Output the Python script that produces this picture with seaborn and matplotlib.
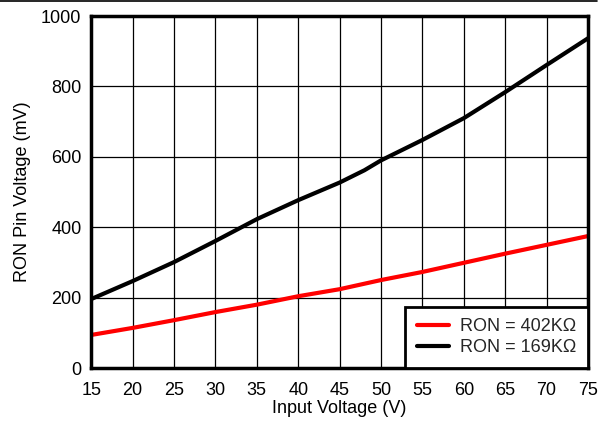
import matplotlib
matplotlib.use("Agg")
import matplotlib.pyplot as plt
import seaborn as sns
import pandas as pd
from matplotlib.lines import Line2D

vin_169 = [15, 20, 25, 30, 35, 40, 45, 48, 50, 55, 60, 65, 70, 75]
ron_169 = [196, 247, 301, 361, 423, 477, 527, 562, 590, 648, 710, 784, 861, 937]
vin_402 = [15, 20, 25, 30, 35, 40, 45, 50, 55, 60, 65, 70, 75]
ron_402 = [94, 114, 136, 159, 180, 204, 224, 250, 273, 299, 325, 350, 375]
labels = ["RON = 402K\u03a9", "RON = 169K\u03a9"]
colors = ["#ff0000", "#000000"]
xticks = list(range(15, 80, 5))
yticks = list(range(0, 1001, 200))

df = pd.concat([
    pd.DataFrame({"Vin": vin_402, "V": ron_402, "series": labels[0]}),
    pd.DataFrame({"Vin": vin_169, "V": ron_169, "series": labels[1]}),
])

sns.set_theme(style="white")
plt.rcParams["font.family"] = ["Liberation Sans", "DejaVu Sans"]

fs = 13
fig = plt.figure(figsize=(6, 4.24), dpi=100)
ax = fig.add_axes([0.152, 0.132, 0.828, 0.830])
sns.lineplot(data=df, x="Vin", y="V", hue="series", palette=colors,
             hue_order=labels, linewidth=3, ax=ax, legend=True)

ax.set_xlim(15, 75)
ax.set_ylim(0, 1000)
ax.set_xticks(xticks)
ax.set_yticks(yticks)
ax.tick_params(axis="both", length=0, labelsize=fs, colors="black")
ax.tick_params(axis="x", pad=10)
ax.tick_params(axis="y", pad=7)
ax.grid(True, color="black", linewidth=0.9)
ax.set_axisbelow(True)
for s in ax.spines.values():
    s.set_visible(True)
    s.set_color("black")
    s.set_linewidth(2.5)
ax.set_xlabel("Input Voltage (V)", fontsize=fs, color="black", labelpad=1)
ax.set_ylabel("RON Pin Voltage (mV)", fontsize=fs, color="black", labelpad=7)

leg = ax.legend(loc="lower right", fontsize=fs, frameon=True, fancybox=False,
                borderaxespad=0, handlelength=1.8, handletextpad=0.6,
                labelspacing=0.22, borderpad=0.65)
leg.get_frame().set_edgecolor("black")
leg.get_frame().set_linewidth(2)
leg.get_frame().set_alpha(1)
for h in leg.get_lines():
    h.set_linewidth(3)

fig.add_artist(Line2D([0, 0.995], [0.997, 0.997], color="black", linewidth=1.2,
                      transform=fig.transFigure))

fig.savefig("out.png", dpi=100)
